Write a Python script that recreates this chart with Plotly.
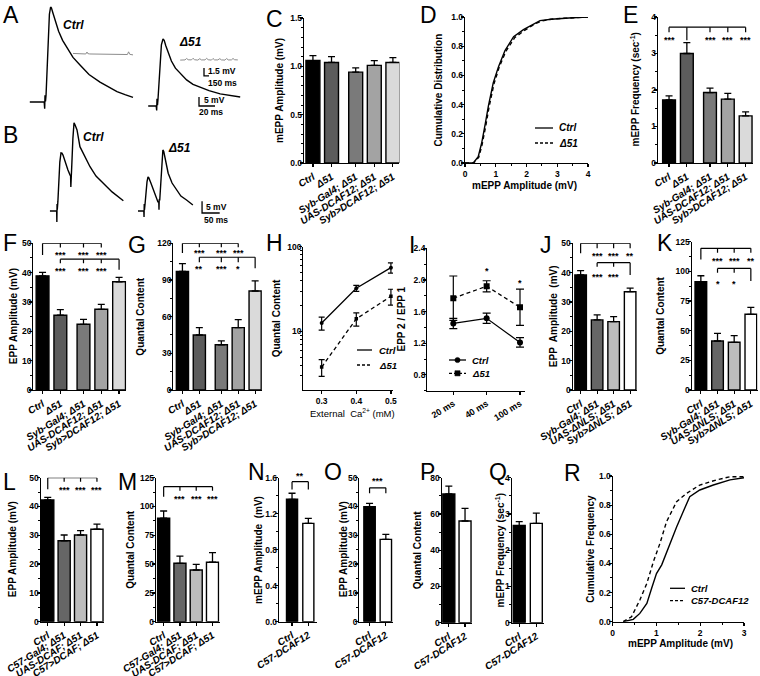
import plotly.graph_objects as go

# ======================= DATA =======================
# A: representative EPP traces (time ms, potential mV) and mEPP insets
A_ctrl_t = [6, 24, 24.6, 25.0, 25.6, 26.3, 27.5, 29, 30.5, 32, 33, 35, 37.5, 42, 47, 52.5, 60, 68.75, 80, 93.75, 105, 115, 125, 135]
A_ctrl_v = [2.2, 2.2, -1.5, 6, 2.5, 6, 20, 38, 51, 55, 54.5, 51.5, 47.8, 41.5, 36.5, 32.8, 27, 22.8, 17.5, 13.3, 10.5, 8, 6.3, 4.8]
A_d51_t = [154, 164, 164.6, 165, 165.6, 166.3, 167.5, 169, 170.5, 172.5, 174, 176, 179, 183, 188, 194, 202, 210, 219, 230, 244, 256, 269]
A_d51_v = [0, 0, -2.5, 4, 0.5, 4, 14, 27, 34, 37.2, 36.5, 33.5, 29.3, 25, 21, 18, 14.5, 12, 10.4, 8.5, 6.7, 5.8, 5]
A_ctrl_m_t = [60, 66, 72, 76, 77.5, 78.5, 81, 88, 96, 104, 112, 120, 126, 128, 129.5, 131, 135]
A_ctrl_m_v = [29.2, 29.0, 29.1, 28.9, 30.0, 29.1, 28.9, 28.9, 28.7, 28.8, 28.6, 28.7, 28.5, 28.6, 30.1, 28.7, 28.4]
A_d51_m_t = [194, 200, 202, 204, 208, 210, 212, 216, 218.5, 220.5, 225, 227, 229, 233, 235, 237, 241, 243.5, 245.5, 250, 252, 254, 258, 260, 262, 266]
A_d51_m_v = [25.5, 25.6, 26.4, 25.7, 25.6, 26.5, 25.7, 25.5, 26.3, 25.6, 25.6, 26.5, 25.7, 25.5, 26.4, 25.6, 25.6, 26.3, 25.6, 25.5, 26.4, 25.6, 25.6, 26.4, 25.7, 25.6]

# B: paired-pulse traces
B_ctrl_t = [14, 33, 33.6, 34.2, 34.8, 36.5, 39, 42, 45.3, 48, 51, 56.7, 65, 70.8, 72.5, 73.2, 73.8, 74.5, 76, 79, 82.2, 85, 90.7, 99, 113, 127.5, 144.5, 165, 190, 222]
B_ctrl_v = [0, 0, -4.7, 3, 0.5, 4, 13, 21, 24.9, 24.8, 24, 21, 17.6, 15.5, 15, 10.3, 17, 14.5, 20, 31, 37.8, 37, 34.8, 27.6, 23.2, 19, 15, 11.9, 8.2, 4.4]
B_d51_t = [263.5, 280, 280.6, 281.2, 281.8, 283.5, 286, 289, 291.8, 294, 300, 306, 311.6, 316, 320, 322.4, 323, 323.6, 325, 328, 331, 334, 336.5, 340, 349, 360, 373, 385, 401, 419]
B_d51_v = [0, 0, -2.6, 3, 0.5, 3, 8, 12.5, 14.6, 14.3, 12, 9.3, 6.9, 5, 3.9, 3.8, 0.5, 5, 4.5, 12, 21, 26.2, 25.5, 22.7, 16.2, 12, 9, 6.4, 4.7, 2.6]

# Category labels
LAB5 = ["Ctrl", "Δ51", "Syb-Gal4; Δ51", "UAS-DCAF12; Δ51", "Syb>DCAF12; Δ51"]
LAB_NLS = ["Ctrl", "Syb-Gal4; Δ51", "UAS-ΔNLS; Δ51", "Syb>ΔNLS; Δ51"]
LAB_C57 = ["Ctrl", "C57-Gal4; Δ51", "UAS-DCAF; Δ51", "C57>DCAF; Δ51"]
LAB2 = ["Ctrl", "C57-DCAF12"]

C_mean = [1.06, 1.04, 0.94, 1.01, 1.04]
C_sem = [0.05, 0.06, 0.045, 0.05, 0.05]

D_ctrl_x = [0, 0.27, 0.43, 0.54, 0.66, 0.76, 0.92, 1.09, 1.30, 1.58, 1.90, 2.22, 2.44, 2.8, 3.09, 3.5, 4.0]
D_ctrl_y = [0, 0, 0.043, 0.135, 0.27, 0.39, 0.55, 0.66, 0.77, 0.865, 0.914, 0.952, 0.975, 0.985, 0.99, 0.995, 1.0]
D_d51_x = [0, 0.28, 0.45, 0.56, 0.68, 0.78, 0.94, 1.11, 1.33, 1.62, 1.95, 2.25, 2.48, 2.8, 3.1, 3.5, 4.0]
D_d51_y = [0, 0, 0.04, 0.13, 0.26, 0.38, 0.54, 0.655, 0.765, 0.86, 0.91, 0.95, 0.972, 0.985, 0.99, 0.995, 1.0]

E_mean = [1.73, 3.0, 1.93, 1.75, 1.29]
E_sem = [0.11, 0.30, 0.12, 0.16, 0.11]

F_mean = [38.9, 25.5, 22.4, 27.5, 36.9]
F_sem = [1.2, 1.9, 1.7, 1.7, 1.5]

G_mean = [97, 45, 37, 51, 81]
G_sem = [6.3, 6, 3.2, 6.5, 8.3]

H_ca = [0.3, 0.4, 0.5]
H_ctrl = [12.6, 32.4, 56.6]
H_ctrl_sem = [2.2, 2.6, 7.7]
H_d51 = [3.8, 14.1, 26.0]
H_d51_sem = [0.85, 2.5, 5.5]

I_isi = ["20 ms", "40 ms", "100 ms"]
I_ctrl = [1.45, 1.515, 1.21]
I_ctrl_sem = [0.065, 0.065, 0.06]
I_d51 = [1.77, 1.92, 1.655]
I_d51_sem = [0.28, 0.07, 0.23]

J_mean = [39.2, 23.9, 23.3, 33.5]
J_sem = [1.5, 1.7, 1.7, 1.2]
K_mean = [91.2, 41.3, 40.2, 63.8]
K_sem = [5.1, 6.4, 5.6, 5.9]
L_mean = [42.3, 28.1, 30.1, 32.1]
L_sem = [0.9, 2.0, 1.5, 1.8]
M_mean = [89.8, 50.7, 44.9, 51.6]
M_sem = [6.3, 6.3, 4.9, 8.3]
N_mean = [1.36, 1.093]
N_sem = [0.067, 0.056]
O_mean = [39.9, 28.6]
O_sem = [1.2, 1.7]
P_mean = [71.0, 56.1]
P_sem = [4.4, 7.0]
Q_mean = [2.68, 2.74]
Q_sem = [0.11, 0.28]

R_ctrl_x = [0.24, 0.47, 0.62, 0.78, 0.89, 1.0, 1.12, 1.27, 1.46, 1.61, 1.76, 1.99, 2.30, 2.68, 3.0]
R_ctrl_y = [0, 0.016, 0.057, 0.126, 0.23, 0.33, 0.39, 0.51, 0.65, 0.755, 0.858, 0.904, 0.938, 0.973, 0.988]
R_c57_x = [0.24, 0.43, 0.62, 0.78, 0.93, 1.08, 1.23, 1.46, 1.69, 1.99, 2.37, 2.68, 3.0]
R_c57_y = [0, 0.034, 0.149, 0.263, 0.412, 0.538, 0.686, 0.824, 0.881, 0.938, 0.973, 0.995, 0.995]

# ======================= STYLE / LAYOUT HELPERS =======================
W, H = 760, 676
FONT = "Liberation Sans, Arial, Helvetica, sans-serif"
TICKF = dict(family=FONT, size=8.5, color="#000000", weight="bold")
CATF = dict(family=FONT, size=10, color="#000000", weight="bold", style="italic")
ANGLE = -32
GREY5 = ["#000000", "#5c5c5c", "#7a7a7a", "#a3a3a3", "#dadada"]
GREY4 = ["#000000", "#666666", "#bdbdbd", "#ffffff"]
GREY2 = ["#000000", "#ffffff"]


def fx(p):
    return p / W


def fy(p):
    return 1 - p / H


fig = go.Figure()
layout = {}
shapes = []
annots = []


def names(n):
    s = "" if n == 1 else str(n)
    return "xaxis" + s, "yaxis" + s, "x" + s, "y" + s


def ax(**kw):
    d = dict(showline=True, linecolor="black", linewidth=1.2, ticks="outside",
             ticklen=3, tickwidth=1.2, tickcolor="black", showgrid=False,
             zeroline=False, tickfont=TICKF, fixedrange=True, automargin=False)
    d.update(kw)
    return d


def yax(**kw):
    d = ax(ticklabelstandoff=-4)
    d.update(kw)
    return d


def minor(dt):
    return dict(dtick=dt, tick0=0, ticks="outside", ticklen=2, tickwidth=1,
                tickcolor="black", showgrid=False)


def make_axes(n, box, xkw, ykw):
    x0, x1, yt, yb = box
    xn, yn, xa, ya = names(n)
    xkw = dict(xkw)
    ykw = dict(ykw)
    xkw.update(domain=[fx(x0), fx(x1)], anchor=ya, automargin=False)
    ykw.update(domain=[fy(yb), fy(yt)], anchor=xa, automargin=False)
    layout[xn] = xkw
    layout[yn] = ykw
    return xa, ya


def label(px, py, s, size=10, bold=True, italic=False, xanchor="left", yanchor="middle", angle=0):
    annots.append(dict(x=fx(px), y=fy(py), xref="paper", yref="paper", text=s,
                       showarrow=False, xanchor=xanchor, yanchor=yanchor, textangle=angle,
                       font=dict(family=FONT, size=size, color="#000000",
                                 weight="bold" if bold else "normal",
                                 style="italic" if italic else "normal")))


def vtitle(px, yt, yb, s):
    label(px - 2.5, (yt + yb) / 2, s, size=10, xanchor="center", yanchor="middle", angle=-90)


def letter(px, py, s):
    label(px - 2, py - 5, s, size=23, bold=False, yanchor="top")


def positions(n, gap_after=None, gap=0.3):
    return [i + (gap if gap_after is not None and i > gap_after else 0) for i in range(n)]


def bar_panel(n, box, xr, yr, ydt, ymn, yfmt, labels, mean, sem, colors, yt, tx, pos, bw=0.72):
    xa, ya = make_axes(
        n, box,
        ax(range=xr, tickmode="array", tickvals=pos, ticktext=labels, tickangle=ANGLE,
           tickfont=CATF, ticklen=3),
        yax(range=yr, tick0=0, dtick=ydt, tickformat=yfmt, minor=minor(ymn)))
    vtitle(tx, box[2], box[3], yt)
    fig.add_trace(go.Bar(
        x=pos, y=mean, width=bw, xaxis=xa, yaxis=ya, hoverinfo="skip", cliponaxis=False,
        marker=dict(color=colors, line=dict(color="black", width=1.4)),
        error_y=dict(type="data", array=sem, arrayminus=[0] * len(sem), symmetric=False,
                     color="black", thickness=1.3, width=3.5)))
    return xa, ya


def seg(xa, ya, x0, y0, x1, y1, w=1.2):
    shapes.append(dict(type="line", xref=xa, yref=ya, x0=x0, y0=y0, x1=x1, y1=y1,
                       line=dict(color="black", width=w)))


def star(xa, ya, x, y, s, yshift=-3):
    annots.append(dict(x=x, y=y, xref=xa, yref=ya, text=s, showarrow=False,
                       xanchor="center", yanchor="middle", yshift=yshift,
                       font=dict(family=FONT, size=9, color="#000000", weight="bold")))


def bracket(xa, ya, pos, idx, ref, level, tick, stem, comps, stars, star_y):
    xs = [pos[i] for i in idx]
    seg(xa, ya, min(xs), level, max(xs), level)
    for i in idx:
        seg(xa, ya, pos[i], level, pos[i], level - (stem if i == ref else tick))
    for i, s in zip(comps, stars):
        star(xa, ya, pos[i], star_y, s)


def pair_bracket(xa, ya, pos, level, drop, s, star_y, yshift=2):
    seg(xa, ya, pos[0], level, pos[1], level)
    seg(xa, ya, pos[0], level, pos[0], level - drop)
    seg(xa, ya, pos[1], level, pos[1], level - drop)
    star(xa, ya, (pos[0] + pos[1]) / 2, star_y, s, yshift=yshift)


def line_trace(xa, ya, x, y, color="black", width=1.4, dash=None):
    fig.add_trace(go.Scatter(x=x, y=y, mode="lines", xaxis=xa, yaxis=ya, hoverinfo="skip",
                             line=dict(color=color, width=width, dash=dash)))


def legend_line(x0, x1, y, dash=None, marker=None):
    shapes.append(dict(type="line", xref="paper", yref="paper", x0=fx(x0), x1=fx(x1),
                       y0=fy(y), y1=fy(y), line=dict(color="black", width=1.3, dash=dash)))
    if marker:
        c = (x0 + x1) / 2
        shapes.append(dict(type=marker, xref="paper", yref="paper", x0=fx(c - 2.6), x1=fx(c + 2.6),
                           y0=fy(y + 2.6), y1=fy(y - 2.6), fillcolor="black",
                           line=dict(color="black", width=0.5)))


DASH = "4px,3px"

# ======================= PANEL A =======================
xa, ya = make_axes(1, (25, 245, 4, 116),
                   dict(visible=False, range=[0, 275], fixedrange=True),
                   dict(visible=False, range=[-5.56, 56.67], fixedrange=True))
line_trace(xa, ya, A_ctrl_t, A_ctrl_v)
line_trace(xa, ya, A_d51_t, A_d51_v)
line_trace(xa, ya, A_ctrl_m_t, A_ctrl_m_v, color="#8c8c8c", width=1)
line_trace(xa, ya, A_d51_m_t, A_d51_m_v, color="#8c8c8c", width=1)
# scale bars
line_trace(xa, ya, [223.75, 223.75, 230.0], [16.7 + 4.4, 16.7, 16.7], width=1.3)
line_trace(xa, ya, [217.5, 217.5, 217.5 + 20], [5, 0, 0], width=1.3)
letter(3, 5, "A")
label(61, 25, "Ctrl", size=12, italic=True)
label(177, 42, "Δ51", size=12, italic=True)
label(206, 71, "1.5 mV", size=8.5)
label(206, 83, "150 ms", size=8.5)
label(202, 100, "5 mV", size=8.5)
label(197, 112, "20 ms", size=8.5)

# ======================= PANEL B =======================
xa, ya = make_axes(2, (45, 225, 118, 228),
                   dict(visible=False, range=[0, 510], fixedrange=True),
                   dict(visible=False, range=[-7.3, 39.9], fixedrange=True))
line_trace(xa, ya, B_ctrl_t, B_ctrl_v)
line_trace(xa, ya, B_d51_t, B_d51_v)
line_trace(xa, ya, [445, 445, 495], [-0.86 + 5, -0.86, -0.86], width=1.3)
letter(3, 125, "B")
label(81, 137, "Ctrl", size=12, italic=True)
label(166, 148, "Δ51", size=12, italic=True)
label(204, 207, "5 mV", size=8.5)
label(202, 220, "50 ms", size=8.5)

# ======================= PANEL C =======================
p5 = positions(5, gap_after=1)
bar_panel(3, (304, 399.4, 18, 163), [-0.48, 4.65], [0, 1.5], 0.5, 0.1, ".1f",
          LAB5, C_mean, C_sem, GREY5, "mEPP Amplitude (mV)", 282, p5, bw=0.75)
letter(266, 9, "C")

# ======================= PANEL D =======================
xa, ya = make_axes(4, (465, 588, 17, 163),
                   ax(range=[0, 4], dtick=1, tick0=0, minor=minor(0.5)),
                   yax(range=[0, 1], dtick=0.2, tick0=0, tickformat=".1f", minor=minor(0.1)))
vtitle(440, 17, 163, "Cumulative Distribution")
label(524, 185, "mEPP Amplitude (mV)", size=10, xanchor="center")
line_trace(xa, ya, D_ctrl_x, D_ctrl_y, width=1.4)
line_trace(xa, ya, D_d51_x, D_d51_y, width=1.4, dash=DASH)
legend_line(535, 553, 128)
legend_line(535, 553, 143, dash="3px,2px")
label(557, 128, "Ctrl", size=10, italic=True)
label(557, 143, "Δ51", size=10, italic=True)
letter(420, 5, "D")

# ======================= PANEL E =======================
xa, ya = bar_panel(5, (658, 753.1, 17, 163), [-0.62, 4.72], [0, 4], 1, 0.5, "d",
                   LAB5, E_mean, E_sem, GREY5, "mEPP Frequency (sec<sup>-1</sup>)", 637, p5)
bracket(xa, ya, p5, [0, 1, 2, 3, 4], 1, 3.72, 0.14, 0.36, [0, 2, 3, 4], ["***"] * 4, 3.45)
letter(623, 5, "E")

# ======================= PANEL F =======================
xa, ya = bar_panel(6, (33.3, 126.2, 243.3, 390), [-0.52, 4.7], [0, 50], 10, 5, "d",
                   LAB5, F_mean, F_sem, GREY5, "EPP Amplitude (mV)", 16, p5)
bracket(xa, ya, p5, [0, 1, 2, 3], 0, 50, 1.4, 4.0, [1, 2, 3], ["***"] * 3, 47.0)
bracket(xa, ya, p5, [1, 2, 3, 4], 4, 44.6, 1.4, 3.6, [1, 2, 3], ["***"] * 3, 41.6)
letter(3, 233, "F")

# ======================= PANEL G =======================
xa, ya = bar_panel(7, (173.3, 261.9, 243.3, 390), [-0.54, 4.7], [0, 120], 30, 15, "d",
                   LAB5, G_mean, G_sem, GREY5, "Quantal Content", 143.5, p5)
bracket(xa, ya, p5, [0, 1, 2, 3], 0, 120, 3.2, 8, [1, 2, 3], ["***"] * 3, 114.5)
bracket(xa, ya, p5, [1, 2, 3, 4], 4, 108.6, 4.2, 9, [1, 2, 3], ["**", "***", "*"], 101.5)
letter(128, 235, "G")

# ======================= PANEL H =======================
xa, ya = make_axes(8, (303.3, 393, 246.7, 390),
                   ax(range=[0.247, 0.506], tickmode="array", tickvals=H_ca, tickformat=".1f"),
                   yax(type="log", range=[0.31, 2.0], dtick=1,
                       minor=dict(dtick="D1", ticks="outside", ticklen=2, tickwidth=1,
                                  tickcolor="black", showgrid=False)))
vtitle(278.5, 246.7, 390, "Quantal Content")
label(352.5, 412.7, "External  Ca<sup>2+</sup> (mM)", size=9.5, bold=False, xanchor="center")
fig.add_trace(go.Scatter(x=H_ca, y=H_ctrl, xaxis=xa, yaxis=ya, mode="lines+markers",
                         hoverinfo="skip", line=dict(color="black", width=1.3),
                         marker=dict(symbol="circle", size=4, color="black"),
                         error_y=dict(type="data", array=H_ctrl_sem, color="black",
                                      thickness=1.2, width=3)))
fig.add_trace(go.Scatter(x=H_ca, y=H_d51, xaxis=xa, yaxis=ya, mode="lines+markers",
                         hoverinfo="skip", line=dict(color="black", width=1.3, dash=DASH),
                         marker=dict(symbol="square", size=3.5, color="black"),
                         error_y=dict(type="data", array=H_d51_sem, color="black",
                                      thickness=1.2, width=3)))
legend_line(357, 372, 350)
legend_line(357, 372, 365, dash="3px,2px")
label(377, 350, "Ctrl", size=9.5, italic=True)
label(377, 365, "Δ51", size=9.5, italic=True)
letter(266, 233, "H")

# ======================= PANEL I =======================
xa, ya = make_axes(9, (427.3, 525, 248.3, 390.7),
                   ax(range=[-0.78, 2.15], tickmode="array", tickvals=[0, 1, 2], ticktext=I_isi,
                      tickangle=ANGLE, tickfont=dict(family=FONT, size=9, color="#000000", weight="bold")),
                   yax(range=[0.6, 2.4], tick0=0.8, dtick=0.4, tickformat=".1f", minor=minor(0.2)))
vtitle(403.5, 248.3, 390.7, "EPP 2 / EPP 1")
fig.add_trace(go.Scatter(x=[0, 1, 2], y=I_ctrl, xaxis=xa, yaxis=ya, mode="lines+markers",
                         hoverinfo="skip", line=dict(color="black", width=1.3),
                         marker=dict(symbol="circle", size=6, color="black"),
                         error_y=dict(type="data", array=I_ctrl_sem, color="black",
                                      thickness=1.2, width=4)))
fig.add_trace(go.Scatter(x=[0, 1, 2], y=I_d51, xaxis=xa, yaxis=ya, mode="lines+markers",
                         hoverinfo="skip", line=dict(color="black", width=1.3, dash=DASH),
                         marker=dict(symbol="square", size=6, color="black"),
                         error_y=dict(type="data", array=I_d51_sem, color="black",
                                      thickness=1.2, width=4)))
star(xa, ya, 1, 2.15, "*")
star(xa, ya, 2, 2.0, "*")
legend_line(449, 466, 360, marker="circle")
legend_line(449, 466, 373.3, dash="3px,2px", marker="rect")
label(470, 360, "Ctrl", size=9.5, italic=True)
label(470, 373.3, "Δ51", size=9.5, italic=True)
letter(409, 235, "I")

# ======================= PANEL J =======================
p4 = positions(4)
xa, ya = bar_panel(10, (572.7, 637.4, 243.3, 390), [-0.48, 3.44], [0, 50], 10, 5, "d",
                   LAB_NLS, J_mean, J_sem, GREY4, "EPP  Amplitude  (mV)", 556, p4, bw=0.7)
bracket(xa, ya, p4, [0, 1, 2, 3], 0, 50, 1.7, 3.4, [1, 2, 3], ["***", "***", "**"], 46.6)
bracket(xa, ya, p4, [1, 2, 3], 3, 43.4, 1.4, 4.2, [1, 2], ["***", "***"], 39.6)
letter(540, 235, "J")

# ======================= PANEL K =======================
xa, ya = bar_panel(11, (691.7, 757.5, 241.7, 390), [-0.55, 3.4], [0, 125], 25, 12.5, "d",
                   LAB_NLS, K_mean, K_sem, GREY4, "Quantal Content", 663.5, p4, bw=0.7)
bracket(xa, ya, p4, [0, 1, 2, 3], 0, 119.4, 3.7, 9.3, [1, 2, 3], ["***", "***", "**"], 111.3)
bracket(xa, ya, p4, [1, 2, 3], 3, 102.5, 3.7, 10.7, [1, 2], ["*", "*"], 92.0)
letter(657, 233, "K")

# ======================= PANEL L =======================
xa, ya = bar_panel(12, (40.7, 104.0, 477.7, 621.7), [-0.43, 3.43], [0, 50], 10, 5, "d",
                   LAB_C57, L_mean, L_sem, GREY4, "EPP Amplitude (mV)", 15, p4, bw=0.74)
bracket(xa, ya, p4, [0, 1, 2, 3], 0, 50, 1.4, 4.0, [1, 2, 3], ["***"] * 3, 46.8)
letter(3, 472, "L")

# ======================= PANEL M =======================
xa, ya = bar_panel(13, (156, 219.5, 477.7, 621.7), [-0.47, 3.43], [0, 125], 25, 12.5, "d",
                   LAB_C57, M_mean, M_sem, GREY4, "Quantal Content", 133.5, p4, bw=0.74)
bracket(xa, ya, p4, [0, 1, 2, 3], 0, 117.2, 3.5, 8.7, [1, 2, 3], ["***"] * 3, 109)
letter(118, 472, "M")

# ======================= PANEL N =======================
p2 = positions(2)
xa, ya = bar_panel(14, (279, 316.8, 477.7, 621.7), [-0.8, 1.52], [0, 1.6], 0.4, 0.2, ".1f",
                   LAB2, N_mean, N_sem, GREY2, "mEPP Amplitude  (mV)", 260.7, p2, bw=0.68)
pair_bracket(xa, ya, p2, 1.556, 0.086, "**", 1.59, yshift=3)
letter(248, 462, "N")

# ======================= PANEL O =======================
xa, ya = bar_panel(15, (359.3, 393, 477.7, 621.7), [-0.63, 1.44], [0, 50], 10, 5, "d",
                   LAB2, O_mean, O_sem, GREY2, "EPP Amplitude (mV)", 346, p2, bw=0.7)
pair_bracket(xa, ya, p2, 46.5, 1.9, "***", 48.6, yshift=1)
letter(324, 462, "O")

# ======================= PANEL P =======================
bar_panel(16, (441.7, 472, 477.7, 622.7), [-0.44, 1.43], [0, 80], 20, 10, "d",
          LAB2, P_mean, P_sem, GREY2, "Quantal Content", 419.5, p2, bw=0.74)
letter(420, 462, "P")

# ======================= PANEL Q =======================
bar_panel(17, (511.7, 544.0, 477.7, 622.7), [-0.44, 1.45], [0, 4], 1, 0.5, "d",
          LAB2, Q_mean, Q_sem, GREY2, "mEPP Frequency (sec<sup>-1</sup>)", 502.7, p2, bw=0.7)
letter(489, 462, "Q")

# ======================= PANEL R =======================
xa, ya = make_axes(18, (612.7, 744, 476, 621.7),
                   ax(range=[0, 3], dtick=1, tick0=0, minor=minor(0.5)),
                   yax(range=[0, 1], dtick=0.2, tick0=0, tickformat=".1f", minor=minor(0.1)))
vtitle(593.3, 476, 621.7, "Cumulative Frequency")
label(680.5, 643.5, "mEPP Amplitude (mV)", size=10, xanchor="center")
line_trace(xa, ya, R_ctrl_x, R_ctrl_y, width=1.4)
line_trace(xa, ya, R_c57_x, R_c57_y, width=1.4, dash=DASH)
legend_line(670, 685, 588.3)
legend_line(670, 685, 600.7, dash="3px,2px")
label(689, 588.3, "Ctrl", size=9.5, italic=True)
label(689, 600.7, "C57-DCAF12", size=9.5, italic=True)
letter(564, 463, "R")

# ======================= FINAL LAYOUT =======================
fig.update_layout(
    template="none",
    width=W, height=H, margin=dict(l=0, r=0, t=0, b=0, pad=0, autoexpand=False),
    paper_bgcolor="white", plot_bgcolor="rgba(0,0,0,0)",
    showlegend=False, font=dict(family=FONT, color="#000000"),
    shapes=shapes, annotations=annots, **layout)

fig.write_html("out.html", config={"displayModeBar": False, "staticPlot": True},
               post_script="document.body.style.margin='0';document.body.style.overflow='hidden';")
